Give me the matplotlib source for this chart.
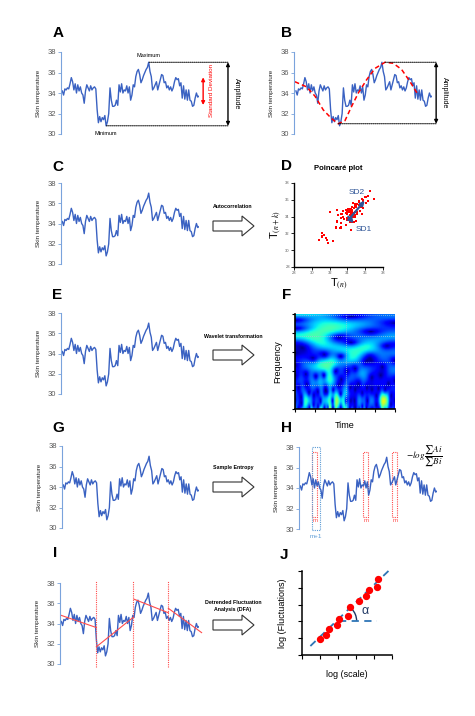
import numpy as np
import matplotlib.pyplot as plt
from matplotlib.patches import Polygon, Rectangle, Arc

plt.rcParams['font.family'] = ['Liberation Sans', 'DejaVu Sans']
plt.rcParams['mathtext.fontset'] = 'stix'

# skin temperature trace
temp = [34.2, 33.8, 34.4, 34.3, 34.5, 34.4, 34.9, 35.5, 35.1, 34.3,
        34.9, 34.0, 34.8, 34.2, 34.6, 34.0, 33.8, 33.0, 34.2, 34.8,
        34.5, 34.2, 34.7, 34.3, 34.5, 34.6, 34.4,
        32.4, 31.1, 31.7, 31.2, 31.6, 31.4, 31.8, 30.8, 31.2, 32.0,
        34.5, 33.3, 32.7, 32.7, 32.8, 33.3, 32.8, 34.8, 34.1, 34.9,
        34.0, 34.3, 34.2, 34.7, 34.0, 34.6, 33.3, 33.8, 34.8, 34.6,
        35.6, 36.1, 36.3, 35.8, 35.0, 35.3, 35.7, 36.0, 36.3, 36.5,
        37.0, 36.1, 35.6, 34.3, 34.5, 34.8, 35.1, 34.3, 34.8, 35.3,
        35.8, 35.7, 35.0, 35.1, 34.5, 34.7, 34.3, 34.6, 34.2, 34.5,
        35.1, 35.5, 35.3, 35.4, 34.7, 35.0, 33.5, 34.7, 33.4, 34.3,
        33.3, 34.3, 33.3, 33.2, 32.7, 32.8, 33.5, 34.0, 33.6, 33.7]
t = np.arange(len(temp))

# cosinor-like fit drawn in panel B (sample index, temperature)
fit_t = [-0.8, 8.3, 14.8, 21.3, 27.8, 33.0, 38.2, 43.4, 48.6, 55.1,
         61.6, 69.4, 75.8, 82.3, 88.9, 95.3]
fit_v = [35.1, 34.6, 33.7, 32.35, 31.5, 31.0, 31.3, 32.7, 34.0, 35.3,
         36.4, 37.0, 36.9, 36.3, 35.1, 33.8]

# Poincare lag shown in panel D
lag = 1

# sample entropy templates in panel H
m_start = [9.3, 48.8, 71.3]
m_width = 3.9
m1_start = 9.3
m1_width = 6.2

# DFA windows and local trends in panel I
dfa_edges = [27, 55, 82.4]
trend_x0 = [0, 27, 56, 82.4]
trend_y0 = [34.8, 31.7, 36.4, 35.5]
trend_x1 = [27, 55.3, 82.4, 108]
trend_y1 = [33.6, 34.6, 35.06, 33.1]

# DFA log-log plot in panel J
log_scale = [1.96, 2.63, 3.0, 3.89, 4.07, 5.11, 5.37, 6.37, 7.11, 7.48, 8.33, 8.48]
log_fluct = [1.87, 2.42, 3.13, 3.53, 4.33, 4.64, 5.71, 6.47, 7.02, 7.78, 8.10, 9.0]
alpha_slope = 1.03
alpha_icpt = 0.11

line_col = '#3a62c2'
spine_col = '#7aa3dc'
tick_txt = '#595959'

W, H = 475, 716
fig = plt.figure(figsize=(W / 100, H / 100), dpi=100)


def box(x0, y0, x1, y1):
    return [x0 / W, 1 - y1 / H, (x1 - x0) / W, (y1 - y0) / H]


# overlay in pixel coordinates for letters and arrows
ov = fig.add_axes([0, 0, 1, 1])
ov.set_xlim(0, W)
ov.set_ylim(H, 0)
ov.axis('off')

letters = {'A': (58, 33), 'B': (286, 33), 'C': (58, 167), 'D': (287, 166),
           'E': (57, 295), 'F': (287, 295), 'G': (58, 428), 'H': (287, 428),
           'I': (55, 553), 'J': (284, 555)}
for k, (x, y) in letters.items():
    ov.text(x, y, k, fontsize=11, fontweight='bold', ha='center', va='center')


def block_arrow(yc, label):
    x0, xb, xt = 213, 242, 254
    pts = [(x0, yc - 5), (xb, yc - 5), (xb, yc - 10), (xt, yc),
           (xb, yc + 10), (xb, yc + 5), (x0, yc + 5)]
    ov.add_patch(Polygon(pts, closed=True, fc='white', ec='#333333', lw=0.8))
    ov.text(233, yc - 19, label, fontsize=3.8, fontweight='bold',
            ha='center', va='center', linespacing=1.6)


block_arrow(226, 'Autocorrelation')
block_arrow(355, 'Wavelet transformation')
block_arrow(487, 'Sample Entropy')
block_arrow(625, 'Detrended Fluctuation\nAnalysis (DFA)')


def ts_axes(x0, y0, x1, y1):
    ax = fig.add_axes(box(x0, y0, x1, y1))
    ax.plot(t, temp, color=line_col, lw=1.0)
    ax.set_xlim(-1, len(temp) - 1)
    ax.set_ylim(30, 38)
    for s in ['top', 'right', 'bottom']:
        ax.spines[s].set_visible(False)
    ax.spines['left'].set_color(spine_col)
    ax.spines['left'].set_linewidth(0.8)
    ax.set_xticks([])
    ax.set_yticks(range(30, 39, 2))
    ax.tick_params(axis='y', colors=spine_col, labelcolor=tick_txt,
                   labelsize=5.5, length=2, width=0.6, pad=1.5)
    ax.set_ylabel('Skin temperature', fontsize=4.5, color='#262626', labelpad=5)
    ax.patch.set_alpha(0)
    return ax


# A
axA = ts_axes(61, 52, 199, 134)
imax, imin = int(np.argmax(temp)), int(np.argmin(temp))
tmax, tmin = temp[imax], temp[imin]
yx = axA.get_yaxis_transform()
axA.annotate('', xy=(imax, tmax), xytext=(1.21, tmax), textcoords=yx,
             arrowprops=dict(arrowstyle='-', ls=(0, (1, 1)), lw=0.7, color='k',
                             shrinkA=0, shrinkB=0))
axA.annotate('', xy=(imin, tmin), xytext=(1.21, tmin), textcoords=yx,
             arrowprops=dict(arrowstyle='-', ls=(0, (1, 1)), lw=0.7, color='k',
                             shrinkA=0, shrinkB=0))
axA.annotate('', xy=(1.21, tmax), xytext=(1.21, tmin), xycoords=yx, textcoords=yx,
             arrowprops=dict(arrowstyle='<|-|>', lw=1.0, color='k',
                             mutation_scale=5, shrinkA=0, shrinkB=0))
axA.text(1.27, (tmax + tmin) / 2, 'Amplitude', transform=yx, rotation=-90,
         fontsize=5, ha='center', va='center')
sd_mean = float(np.mean(temp))
axA.annotate('', xy=(1.03, sd_mean + 1.3), xytext=(1.03, sd_mean - 1.4),
             xycoords=yx, textcoords=yx,
             arrowprops=dict(arrowstyle='<|-|>', lw=1.0, color='red',
                             mutation_scale=5, shrinkA=0, shrinkB=0))
axA.text(1.09, sd_mean, 'Standard Deviation', transform=yx, rotation=90,
         fontsize=4.5, color='red', ha='center', va='center')
axA.annotate('Maximum', xy=(imax, tmax), xytext=(0, 3), textcoords='offset points',
             fontsize=4, ha='center', va='bottom')
axA.annotate('Minimum', xy=(imin, tmin), xytext=(0, -4), textcoords='offset points',
             fontsize=4, ha='center', va='top')

# B
axB = ts_axes(294, 52, 432, 134)
axB.set_xlim(-1.5, len(temp) - 1)
axB.plot(fit_t, fit_v, color='red', ls=(0, (3, 2)), lw=1.1)
fmax, fmin = int(np.argmax(fit_v)), int(np.argmin(fit_v))
yx = axB.get_yaxis_transform()
for i in (fmax, fmin):
    axB.annotate('', xy=(fit_t[i], fit_v[i]), xytext=(1.03, fit_v[i]), textcoords=yx,
                 arrowprops=dict(arrowstyle='-', ls=(0, (1, 1)), lw=0.7, color='k',
                                 shrinkA=0, shrinkB=0))
axB.annotate('', xy=(1.03, fit_v[fmax]), xytext=(1.03, fit_v[fmin]),
             xycoords=yx, textcoords=yx,
             arrowprops=dict(arrowstyle='<|-|>', lw=1.0, color='k',
                             mutation_scale=5, shrinkA=0, shrinkB=0))
axB.text(1.09, (fit_v[fmax] + fit_v[fmin]) / 2, 'Amplitude', transform=yx,
         rotation=-90, fontsize=5, ha='center', va='center')

# C, E, G
ts_axes(61, 183, 199, 264)
ts_axes(61, 313, 199, 394)
ts_axes(62, 446, 199, 528)

# D: Poincare plot
axD = fig.add_axes(box(294, 183, 383, 267))
axD.scatter(temp[:-lag], temp[lag:], s=3, marker='s', color='red', lw=0)
axD.set_xlim(28, 38)
axD.set_ylim(28, 38)
axD.set_xticks(range(28, 39, 2))
axD.set_yticks(range(28, 39, 2))
for s in ['top', 'right']:
    axD.spines[s].set_visible(False)
for s in ['left', 'bottom']:
    axD.spines[s].set_linewidth(1.0)
axD.tick_params(labelsize=3, labelcolor=tick_txt, length=2, width=0.6, pad=1)
axD.set_xlabel('T$_{(n)}$', fontsize=8, labelpad=1)
axD.set_ylabel('T$_{(n+k)}$', fontsize=8, labelpad=1)
axD.set_title('Poincaré plot', fontsize=5.5, fontweight='bold', pad=9)
axD.patch.set_alpha(0)
sd_col = '#2f5597'
axD.annotate('', xy=(35.95, 35.9), xytext=(34.1, 33.6),
             arrowprops=dict(arrowstyle='-|>', lw=1.6, color=sd_col,
                             mutation_scale=6, shrinkA=0, shrinkB=0))
axD.annotate('', xy=(34.7, 33.2), xytext=(34.1, 34.0),
             arrowprops=dict(arrowstyle='-|>', lw=1.6, color=sd_col,
                             mutation_scale=6, shrinkA=0, shrinkB=0))
axD.text(35.1, 36.9, 'SD2', fontsize=6, color=sd_col, ha='center', va='center')
axD.text(35.8, 32.5, 'SD1', fontsize=6, color=sd_col, ha='center', va='center')

# F: wavelet scalogram of the trace (Morlet), small scales at the bottom
sig = np.array(temp) - np.mean(temp)
n = len(sig)
padded = np.concatenate([sig[::-1], sig, sig[::-1]])
scales = np.geomspace(1.5, 30, 70)
power = np.empty((len(scales), n))
for i, s in enumerate(scales):
    tt = np.arange(-int(4 * s) - 1, int(4 * s) + 2)
    wav = np.exp(1j * 6 * tt / s) * np.exp(-(tt / s) ** 2 / 2) / s
    power[i] = np.abs(np.convolve(padded, wav, mode='same'))[n:2 * n]
power = (power / power.max()) ** 0.8
axF = fig.add_axes(box(295, 314, 395, 409))
axF.imshow(power, origin='lower', aspect='auto', cmap='jet', vmin=0.0, vmax=1.6,
           extent=[0, 1, 0, 1], interpolation='bilinear')
axF.set_xlim(0, 1)
axF.set_ylim(0, 1)
for yy in [0.25, 0.5, 0.77, 0.99]:
    axF.axhline(yy, color='#9ec9d9', ls=(0, (1, 1.5)), lw=0.6)
axF.axvline(0.51, color='#9ec9d9', ls=(0, (1, 1.5)), lw=0.6)
axF.set_xticks(np.linspace(0, 1, 6))
axF.set_yticks(np.linspace(0, 1, 6))
axF.set_xticklabels([])
axF.set_yticklabels([])
for s in ['top', 'right']:
    axF.spines[s].set_visible(False)
for s in ['left', 'bottom']:
    axF.spines[s].set_linewidth(1.2)
axF.tick_params(length=2.5, width=0.8)
axF.set_xlabel('Time', fontsize=6.5, labelpad=3)
axF.set_ylabel('Frequency', fontsize=6.5, labelpad=3)

# H: sample entropy
axH = ts_axes(299, 447, 437, 529)
for x in m_start:
    axH.add_patch(Rectangle((x, 31.2), m_width, 6.3, fill=False, ec='#ff4b4b',
                            ls=(0, (1, 1)), lw=0.8))
    axH.text(x + m_width / 2, 30.8, 'm', fontsize=4.5, color='#ff4b4b',
             ha='center', va='center')
axH.add_patch(Rectangle((m1_start, 29.9), m1_width, 8.1, fill=False, ec='#5b9bd5',
                        ls=(0, (1, 1)), lw=0.8, clip_on=False))
axH.text(m1_start + m1_width / 2, 29.3, 'm+1', fontsize=4.5, color='#5b9bd5',
         ha='center', va='center', clip_on=False)
axH.text(1.04, 37.1, r'$-log\,\dfrac{\sum Ai}{\sum Bi}$',
         transform=axH.get_yaxis_transform(), fontsize=6.5, ha='right', va='center')

# I: DFA windows
axI = ts_axes(60, 583, 199, 664)
for x in dfa_edges:
    axI.axvline(x, ymin=-0.04, ymax=1.02, color='#ff4b4b', ls=(0, (1, 1)), lw=0.8,
                clip_on=False)
for x0, y0, x1, y1 in zip(trend_x0, trend_y0, trend_x1, trend_y1):
    axI.plot([x0, x1], [y0, y1], color='#ff4b4b', lw=0.8, clip_on=False)

# J: log-log fluctuation plot
axJ = fig.add_axes(box(302, 571, 392, 655))
xs = np.array([0.93, 9.74])
axJ.plot(xs, alpha_icpt + alpha_slope * xs, color='#2e75b6', lw=1.3,
         ls=(0, (4, 3)), clip_on=False)
axJ.plot([4.07, 8.33], [4.05, 4.05], color='#2e75b6', lw=1.3, ls=(0, (4, 3)))
axJ.scatter(log_scale, log_fluct, s=18, color='red', zorder=3)
axJ.add_patch(Arc((4.07, 4.05), 4.0, 4.2, theta1=0, theta2=45, color='#1f3864', lw=1.0))
axJ.text(7.05, 5.25, 'α', fontsize=9, color='#1f3864', ha='center', va='center')
axJ.set_xlim(0, 10)
axJ.set_ylim(0, 10)
axJ.set_xticks(range(0, 11, 2))
axJ.set_yticks(range(0, 11, 2))
axJ.set_xticklabels([])
axJ.set_yticklabels([])
for s in ['top', 'right']:
    axJ.spines[s].set_visible(False)
for s in ['left', 'bottom']:
    axJ.spines[s].set_linewidth(1.1)
axJ.tick_params(length=3, width=0.8)
axJ.set_xlabel('log (scale)', fontsize=6.5, labelpad=4)
axJ.set_ylabel('log (Fluctuations)', fontsize=6.5, labelpad=4)
axJ.patch.set_alpha(0)

fig.savefig('out.png', dpi=100)
